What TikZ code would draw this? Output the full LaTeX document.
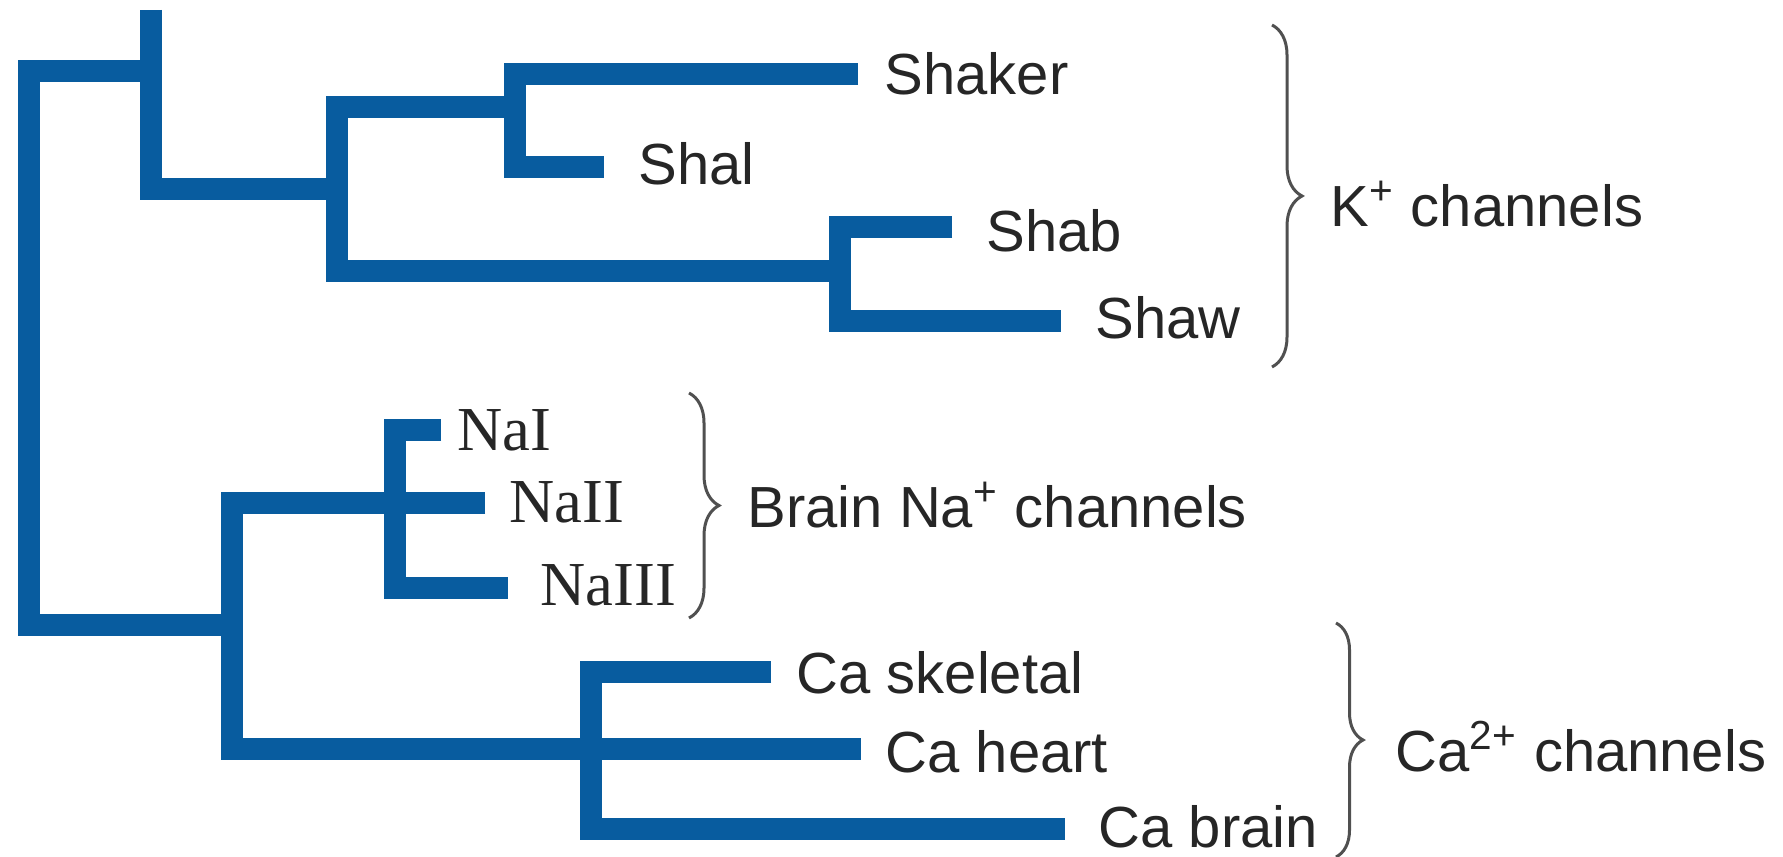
\documentclass[tikz,border=0pt]{standalone}
\usepackage{fontspec}
\setmainfont{Liberation Sans}
\newfontfamily\nafont{Liberation Serif}
\usepackage{tikz}
\usetikzlibrary{decorations.pathreplacing}

\definecolor{TreeBlue}{HTML}{085C9F}
\definecolor{BraceGray}{HTML}{505050}

\begin{document}
\begin{tikzpicture}[x=0.1mm,y=-0.1mm,font=\fontsize{16.5}{19}\selectfont,
    branch/.style={TreeBlue,line width=2.25mm,line join=miter},
    leaf/.style={anchor=west,inner sep=0pt,text=black!85},
    grpbrace/.style={BraceGray,line width=0.3mm,decorate,
      decoration={brace,amplitude=#1}},
    grplabel/.style={anchor=west,inner sep=0pt,text=black!85}]
  \useasboundingbox (0,0) rectangle (1783,857);

  % tips of the tree and their labels
  \foreach \n/\tx/\ty/\lx/\ly/\txt in {
    Shaker/858/74/884/74/Shaker, Shal/604/167/638/164/Shal,
    Shab/952/227/986/231/Shab, Shaw/1061/321/1095/318/Shaw,
    NaI/441/430/457/430/{\nafont\fontsize{17.8}{20}\selectfont NaI},
    NaII/485/503/509/502/{\nafont\fontsize{17.8}{20}\selectfont NaII},
    NaIII/508/588/540/585/{\nafont\fontsize{17.8}{20}\selectfont NaIII},
    Caskel/771/672/796/673/Ca skeletal, Caheart/861/749/885/752/Ca heart,
    Cabrain/1065/829/1098/827/Ca brain}{%
    \coordinate (t\n) at (\tx,\ty);
    \node[leaf] (l\n) at (\lx,\ly) {\txt};
  }

  % branch points
  \coordinate (top) at (151,10);
  \coordinate (nA) at (151,71);
  \coordinate (nR) at (29,350);
  \coordinate (nB) at (337,189);
  \coordinate (nC) at (515,107);
  \coordinate (nD) at (840,271);
  \coordinate (nE) at (232,625);
  \coordinate (nF) at (395,503);
  \coordinate (nG) at (591,749);

  \draw[branch] (top) |- (nB);
  \draw[branch] (nA) -| (nR) |- (nE);
  \draw[branch] (nC) -| (nB) |- (nD);
  \draw[branch] (tShaker) -| (nC) |- (tShal);
  \draw[branch] (tShab) -| (nD) |- (tShaw);
  \draw[branch] (tNaII) -| (nE) |- (tCaheart);
  \draw[branch] (tNaI) -| (nF) |- (tNaIII);
  \draw[branch] (tCaskel) -| (nG) |- (tCabrain);

  % groups
  \coordinate (kTop) at (1272,25);
  \coordinate (kBot) at (1272,367);
  \coordinate (naTop) at (689,393);
  \coordinate (naBot) at (689,618);
  \coordinate (caTop) at (1336,623);
  \coordinate (caBot) at (1336,857);
  \draw[grpbrace=3mm] (kTop) -- (kBot);
  \draw[grpbrace=3mm] (naTop) -- (naBot);
  \draw[grpbrace=2.7mm] (caTop) -- (caBot);
  \node[grplabel] (kLab) at (1330,204) {K\textsuperscript{+} channels};
  \node[grplabel] (naLab) at (747,505) {Brain Na\textsuperscript{+} channels};
  \node[grplabel] (caLab) at (1395,747) {Ca\textsuperscript{2+} channels};
\end{tikzpicture}
\end{document}
